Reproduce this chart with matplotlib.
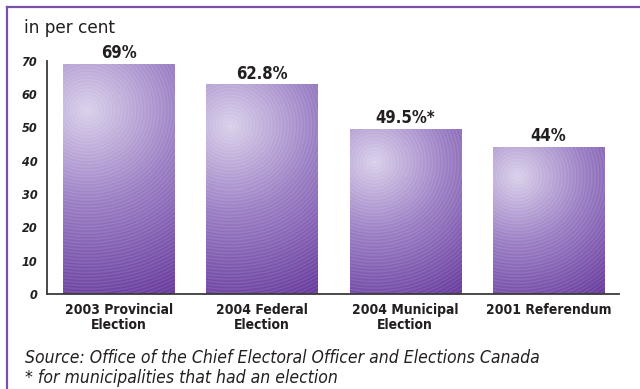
import numpy as np
import matplotlib
matplotlib.use("Agg")
import matplotlib.pyplot as plt
from matplotlib.colors import LinearSegmentedColormap
from matplotlib.lines import Line2D

# ---- data -------------------------------------------------------------
categories = ["2003 Provincial\nElection", "2004 Federal\nElection",
              "2004 Municipal\nElection", "2001 Referendum"]
turnout = [69.0, 62.8, 49.5, 44.0]
value_labels = ["69%", "62.8%", "49.5%*", "44%"]
y_ticks = [0, 10, 20, 30, 40, 50, 60, 70]

# ---- styling ----------------------------------------------------------
W, H, DPI = 640, 389, 100
COND = dict(family=["DejaVu Sans"], fontstretch="condensed")
REGULAR = ["DejaVu Sans"]
TEXT = "#231f20"
FRAME = "#7b52aa"
BAR_W = 0.775

violet = LinearSegmentedColormap.from_list(
    "violet", [(0.0, "#d9cfea"), (0.45, "#9a7ec4"), (1.0, "#65379b")])

fig = plt.figure(figsize=(W / DPI, H / DPI), dpi=DPI)
fig.patch.set_facecolor("white")

# axes placed in pixel terms
ax_l, ax_r, ax_b, ax_t = 47, 619, 294, 60.7
ax = fig.add_axes([ax_l / W, (H - ax_b) / H, (ax_r - ax_l) / W, (ax_b - ax_t) / H])

x = np.arange(len(categories))
bars = ax.bar(x, turnout, width=BAR_W, color="none", edgecolor="none", zorder=1)

xlim = (-0.5, 3.493)
ylim = (0, 70)
px_per_x = (ax_r - ax_l) / (xlim[1] - xlim[0])
px_per_y = (ax_b - ax_t) / (ylim[1] - ylim[0])

# radial shaded fill with fine concentric rings for every bar
for xi, val in zip(x, turnout):
    wp = int(round(BAR_W * px_per_x))
    hp = int(round(val * px_per_y))
    u = (np.arange(wp) + 0.5)
    v = (np.arange(hp) + 0.5)
    cx, cy = 0.22 * wp, 0.20 * hp
    dx = u[None, :] - cx
    dy = v[:, None] - cy
    d = np.hypot(dx, dy)
    dmax = np.hypot(wp - cx, hp - cy)
    t = np.clip(d / dmax, 0, 1)
    rgb = violet(t)[..., :3]
    ring = 0.5 + 0.5 * np.sin(2 * np.pi * d / 3.3)
    amt = 0.10 * ring[..., None]
    rgb = rgb * (1 - amt) + amt
    x0, x1 = xi - BAR_W / 2, xi + BAR_W / 2
    ax.imshow(rgb, extent=(x0, x1, 0, val), origin="upper",
              interpolation="nearest", aspect="auto", zorder=1)

ax.set_xlim(*xlim)
ax.set_ylim(*ylim)

for sp in ("top", "right"):
    ax.spines[sp].set_visible(False)
for sp in ("left", "bottom"):
    ax.spines[sp].set_color("#3a3a3a")
    ax.spines[sp].set_linewidth(1.3)
    ax.spines[sp].set_zorder(3)

ax.set_yticks(y_ticks)
ax.set_yticklabels([str(v) for v in y_ticks], fontweight="bold",
                   fontstyle="italic", fontsize=9, color=TEXT, **COND)
ax.tick_params(axis="y", length=0, pad=7)

ax.set_xticks(x)
ax.set_xticklabels(categories, fontweight="bold", fontsize=10, color=TEXT,
                   linespacing=1.05, va="top", **COND)
ax.tick_params(axis="x", length=0, pad=6.5)

for xi, val, lbl in zip(x, turnout, value_labels):
    ax.annotate(lbl, (xi, val), xytext=(0, 4.3), textcoords="offset points",
                ha="center", va="baseline", fontweight="bold",
                fontsize=12, color=TEXT, **COND)

# unit caption and notes
fig.text(24 / W, (H - 33) / H, "in per cent", family=REGULAR, fontsize=12.2,
         color=TEXT, va="baseline", ha="left")
fig.text(25 / W, (H - 363) / H,
         "Source: Office of the Chief Electoral Officer and Elections Canada",
         fontstyle="italic", fontsize=12.6, color=TEXT,
         va="baseline", ha="left", **COND)
fig.text(25 / W, (H - 383) / H, "* for municipalities that had an election",
         fontstyle="italic", fontsize=12.6, color=TEXT,
         va="baseline", ha="left", **COND)

# purple frame along top and left edges
fig.add_artist(Line2D([6.5 / W, 1.0], [(H - 7) / H, (H - 7) / H],
                      transform=fig.transFigure, color=FRAME, lw=1.6))
fig.add_artist(Line2D([6.5 / W, 6.5 / W], [(H - 7) / H, 0.0],
                      transform=fig.transFigure, color=FRAME, lw=1.6))

fig.savefig("out.png", dpi=DPI, facecolor="white")
